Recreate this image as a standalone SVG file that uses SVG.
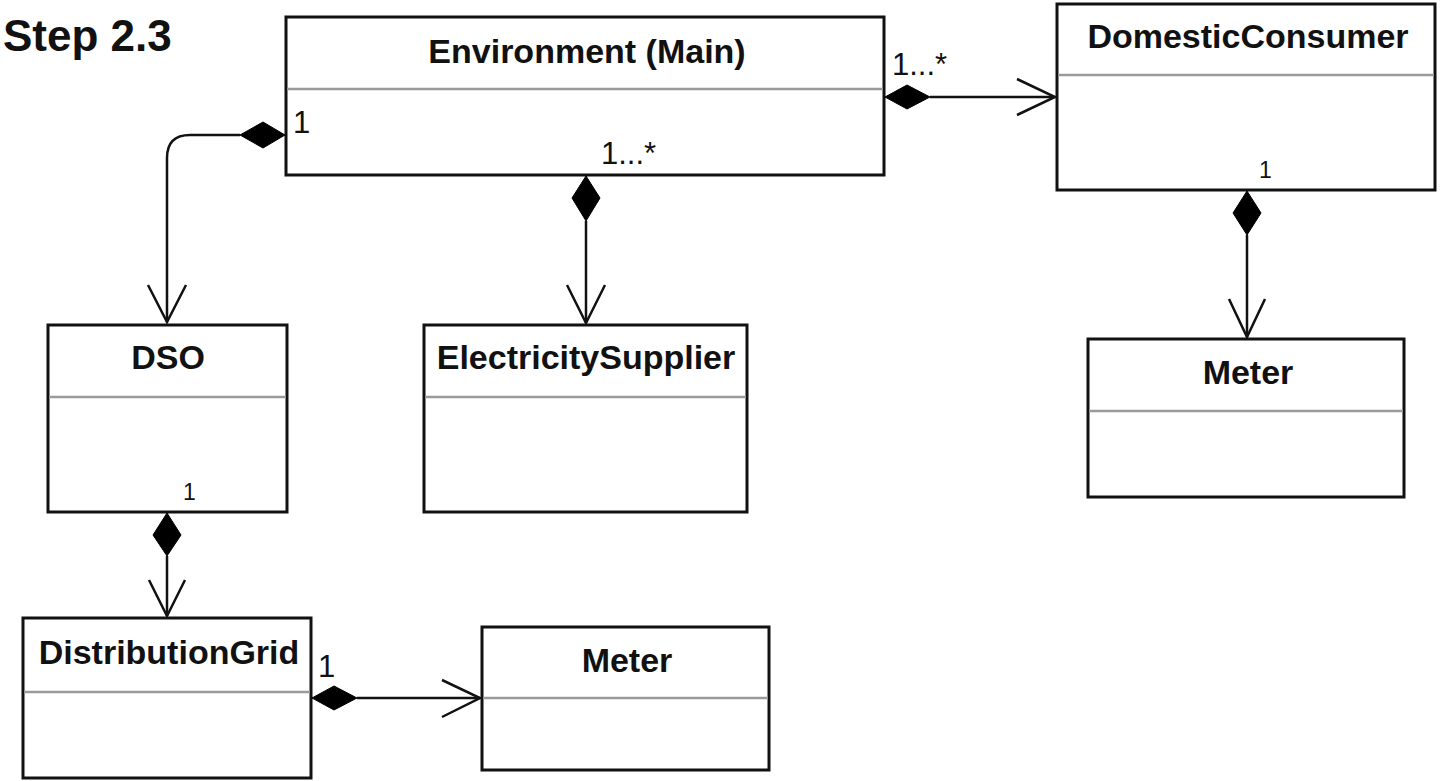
<svg xmlns="http://www.w3.org/2000/svg" width="1440" height="781" viewBox="0 0 1440 781">
<style>
.box{fill:#fff;stroke:#111;stroke-width:3}
.div{stroke:#9a9a9a;stroke-width:2.5}
.title{font-family:"Liberation Sans",Arial,sans-serif;font-weight:bold;font-size:34px;fill:#111;text-anchor:middle}
.lbl{font-family:"Liberation Sans",Arial,sans-serif;font-size:31px;fill:#111}
.sm{font-size:23px}
.ln{fill:none;stroke:#111;stroke-width:2.5}
.dia{fill:#000;stroke:#000;stroke-width:1}
</style>
<rect width="1440" height="781" fill="#fff"/>
<text x="3" y="51" font-family="Liberation Sans,Arial,sans-serif" font-weight="bold" font-size="44" fill="#111">Step 2.3</text>

<g id="environment">
<rect class="box" x="286" y="17" width="598" height="158"/>
<line class="div" x1="287" y1="89" x2="883" y2="89"/>
<text class="title" x="587" y="63">Environment (Main)</text>
</g>
<g id="domesticconsumer">
<rect class="box" x="1057" y="4" width="378" height="186"/>
<line class="div" x1="1058" y1="75" x2="1434" y2="75"/>
<text class="title" x="1248" y="48">DomesticConsumer</text>
</g>
<g id="dso">
<rect class="box" x="48" y="325" width="239" height="187"/>
<line class="div" x1="49" y1="397" x2="286" y2="397"/>
<text class="title" x="168" y="369">DSO</text>
</g>
<g id="electricitysupplier">
<rect class="box" x="424" y="325" width="323" height="187"/>
<line class="div" x1="425" y1="397" x2="746" y2="397"/>
<text class="title" x="586" y="369">ElectricitySupplier</text>
</g>
<g id="meter-right">
<rect class="box" x="1088" y="339" width="316" height="158"/>
<line class="div" x1="1089" y1="411" x2="1403" y2="411"/>
<text class="title" x="1248" y="384">Meter</text>
</g>
<g id="distributiongrid">
<rect class="box" x="23" y="618" width="288" height="160"/>
<line class="div" x1="24" y1="692" x2="310" y2="692"/>
<text class="title" x="169" y="664">DistributionGrid</text>
</g>
<g id="meter-bottom">
<rect class="box" x="482" y="627" width="287" height="143"/>
<line class="div" x1="483" y1="698" x2="768" y2="698"/>
<text class="title" x="627" y="672">Meter</text>
</g>

<g id="connectors">
<!-- Environment -> DomesticConsumer -->
<polygon class="dia" points="885,97 907,85 930,97 907,109"/>
<line class="ln" x1="930" y1="97" x2="1055" y2="97"/>
<polyline class="ln" points="1017,79 1055,97 1017,115"/>
<!-- Environment -> DSO -->
<polygon class="dia" points="285,135 263,122 240,135 263,148"/>
<path class="ln" d="M240,135 H190 Q167,135 167,158 V322"/>
<polyline class="ln" points="148,285 167,322 186,285"/>
<!-- Environment -> ElectricitySupplier -->
<polygon class="dia" points="586,176 600,198 586,221 572,198"/>
<line class="ln" x1="586" y1="221" x2="586" y2="323"/>
<polyline class="ln" points="567,285 586,323 605,285"/>
<!-- DomesticConsumer -> Meter -->
<polygon class="dia" points="1247,191 1261,213 1247,235 1233,213"/>
<line class="ln" x1="1247" y1="235" x2="1247" y2="337"/>
<polyline class="ln" points="1229,299 1247,337 1265,299"/>
<!-- DSO -> DistributionGrid -->
<polygon class="dia" points="167,513 181,535 167,556 153,535"/>
<line class="ln" x1="167" y1="556" x2="167" y2="616"/>
<polyline class="ln" points="149,580 167,616 185,580"/>
<!-- DistributionGrid -> Meter -->
<polygon class="dia" points="312,698 334,686 357,698 334,710"/>
<line class="ln" x1="357" y1="698" x2="480" y2="698"/>
<polyline class="ln" points="442,680 480,698 442,717"/>
</g>

<g id="labels">
<text class="lbl" x="892" y="75">1...*</text>
<text class="lbl" x="601" y="164">1...*</text>
<text class="lbl" x="293" y="133">1</text>
<text class="lbl sm" x="1259" y="178">1</text>
<text class="lbl sm" x="183" y="500">1</text>
<text class="lbl" x="318" y="677" font-size="21">1</text>
</g>
</svg>
